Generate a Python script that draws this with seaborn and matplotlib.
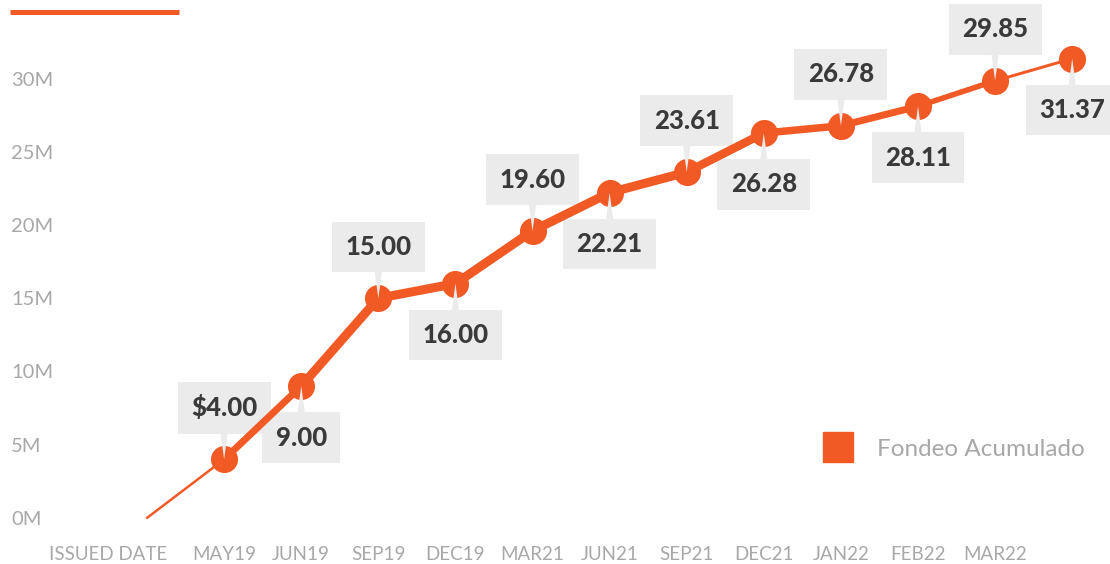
import matplotlib
matplotlib.use("Agg")
import matplotlib.pyplot as plt
import matplotlib.transforms as mtransforms
from matplotlib.lines import Line2D
import numpy as np
import seaborn as sns

# data
periods = ["ISSUED DATE", "MAY19", "JUN19", "SEP19", "DEC19", "MAR21", "JUN21",
           "SEP21", "DEC21", "JAN22", "FEB22", "MAR22", ""]
funding = [0.0, 4.00, 9.00, 15.00, 16.00, 19.60, 22.21, 23.61, 26.28, 26.78,
           28.11, 29.85, 31.37]
point_labels = ["", "$4.00", "9.00", "15.00", "16.00", "19.60", "22.21", "23.61",
                "26.28", "26.78", "28.11", "29.85", "31.37"]
y_ticks = [0, 5, 10, 15, 20, 25, 30]
y_tick_labels = ["0M", "5M", "10M", "15M", "20M", "25M", "30M"]
series_name = "Fondeo Acumulado"

ORANGE = "#F15A24"
BOX = "#EBEBEB"
DARK = "#3A3A3A"
GREY = "#A8A8A8"

# line gets thin at both ends, thick in the middle (px)
seg_widths_px = [2.5, 7, 9, 9, 9, 9, 9, 8.5, 7.5, 7, 5.5, 3]

sns.set_theme(style="white")
plt.rcParams["font.family"] = ["Lato", "DejaVu Sans"]

fig = plt.figure(figsize=(11.1, 5.64), dpi=100)
ax = fig.add_axes([0, 30 / 564, 1, 534 / 564])

x = np.arange(len(periods))
px = 0.72  # points per pixel at dpi 100

for i in range(len(x) - 1):
    sns.lineplot(x=x[i:i + 2], y=funding[i:i + 2], ax=ax, color=ORANGE,
                 lw=seg_widths_px[i] * px, solid_capstyle="round", zorder=2)

sns.scatterplot(x=x[1:], y=funding[1:], ax=ax, color=ORANGE, s=(19.5) ** 2,
                linewidth=0, zorder=3, legend=False)

for i in range(1, len(x)):
    dy = 37 if i % 2 == 1 else -37
    # label box sits under the line
    ax.annotate(point_labels[i], xy=(x[i], funding[i]), xytext=(0, dy),
                textcoords="offset points", ha="center", va="center",
                fontsize=18.5, fontweight="black", color=DARK, zorder=1.5,
                bbox=dict(boxstyle="square,pad=0.52", fc=BOX, ec="none"))
    # pointer wedge on top of the marker
    ax.annotate("", xy=(x[i], funding[i]), xytext=(0, dy * 0.55),
                textcoords="offset points", zorder=4,
                arrowprops=dict(arrowstyle="wedge,tail_width=0.3,shrink_factor=0.5",
                                fc=BOX, ec="none", shrinkA=0, shrinkB=0,
                                mutation_scale=18.5))

ax.set_xlim(-1.907, 12.49)
ax.set_ylim(-1.1, 35.37)
ax.set_yticks(y_ticks)
ax.set_yticklabels(y_tick_labels)
ax.set_xticks(x)
ax.set_xticklabels(periods)
ax.tick_params(axis="y", length=0, pad=-11 * px, labelsize=14.5, labelcolor=GREY)
ax.tick_params(axis="x", length=0, pad=9, labelsize=13.5, labelcolor=GREY)
for t in ax.get_yticklabels():
    t.set_ha("left")
first = ax.get_xticklabels()[0]
first.set_transform(first.get_transform() +
                    mtransforms.ScaledTranslation(-39 / 100, 0, fig.dpi_scale_trans))
ax.set_xlabel("")
ax.set_ylabel("")
sns.despine(ax=ax, left=True, bottom=True)

# decorative bar top left
fig.add_artist(Line2D([10 / 1110, 179 / 1110], [1 - 12 / 564, 1 - 12 / 564],
                      transform=fig.transFigure, color=ORANGE, lw=5 * px,
                      solid_capstyle="butt"))

handle = Line2D([], [], marker="s", ls="", color=ORANGE, markersize=21.6)
leg = ax.legend([handle], [series_name], frameon=False, loc="center left",
                bbox_to_anchor=(814 / 1110, 1 - 449 / 564), bbox_transform=fig.transFigure,
                borderaxespad=0, borderpad=0, handletextpad=0.58, fontsize=17.5)
for t in leg.get_texts():
    t.set_color(GREY)

fig.savefig("out.png", dpi=100)
